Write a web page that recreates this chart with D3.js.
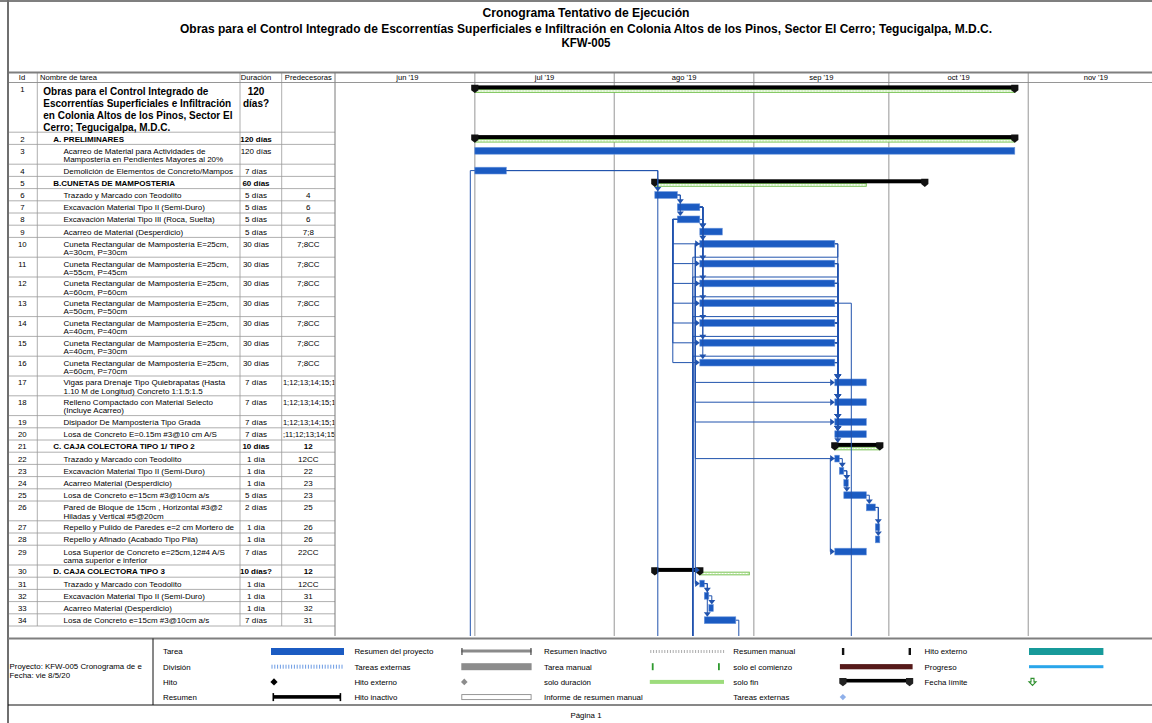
<!DOCTYPE html>
<html><head><meta charset="utf-8">
<script src="https://cdn.jsdelivr.net/npm/d3@7/dist/d3.min.js"></script>
<style>
html,body{margin:0;padding:0;background:#fff;}
svg{display:block;}
</style></head><body>
<svg id="chart" width="1152" height="723"></svg>
<script>
// ================= DATA =================
const titleLines = [
  "Cronograma Tentativo de Ejecución",
  "Obras para el Control Integrado de Escorrentías Superficiales e Infiltración en Colonia Altos de los Pinos, Sector El Cerro; Tegucigalpa, M.D.C.",
  "KFW-005"
];
const columnHeaders = ["Id", "Nombre de tarea", "Duración", "Predecesoras"];
const monthLabels = ["jun '19", "jul '19", "ago '19", "sep '19", "oct '19", "nov '19"];
const monthStarts = ["2019-06-01", "2019-07-01", "2019-08-01", "2019-09-01", "2019-10-01", "2019-11-01", "2019-12-01"];
const projectStart = "2019-07-01";

const taskIds = [1,2,3,4,5,6,7,8,9,10,11,12,13,14,15,16,17,18,19,20,21,22,23,24,25,26,27,28,29,30,31,32,33,34];
const taskNames = [
  "Obras para el Control Integrado de\nEscorrentías Superficiales e Infiltración\nen Colonia Altos de los Pinos, Sector El\nCerro; Tegucigalpa, M.D.C.",
  "A. PRELIMINARES",
  "Acarreo de Material para Actividades de\nMampostería en Pendientes Mayores  al 20%",
  "Demolición de Elementos de Concreto/Mampos",
  "B.CUNETAS DE MAMPOSTERIA",
  "Trazado y Marcado con Teodolito",
  "Excavación Material Tipo II (Semi-Duro)",
  "Excavación Material Tipo III (Roca, Suelta)",
  "Acarreo de Material (Desperdicio)",
  "Cuneta Rectangular de Mampostería E=25cm,\nA=30cm, P=30cm",
  "Cuneta Rectangular de Mampostería E=25cm,\nA=55cm, P=45cm",
  "Cuneta Rectangular de Mampostería E=25cm,\nA=60cm, P=60cm",
  "Cuneta Rectangular de Mampostería E=25cm,\nA=50cm, P=50cm",
  "Cuneta Rectangular de Mampostería E=25cm,\nA=40cm, P=40cm",
  "Cuneta Rectangular de Mampostería E=25cm,\nA=40cm, P=30cm",
  "Cuneta Rectangular de Mampostería E=25cm,\nA=60cm, P=70cm",
  "Vigas para Drenaje Tipo Quiebrapatas (Hasta\n1.10 M de Longitud) Concreto 1:1.5:1.5",
  "Relleno Compactado con Material Selecto\n(Incluye Acarreo)",
  "Disipador De Mampostería Tipo Grada",
  "Losa de Concreto E=0.15m #3@10 cm A/S",
  "C. CAJA COLECTORA TIPO 1/ TIPO 2",
  "Trazado y Marcado con Teodolito",
  "Excavación Material Tipo II (Semi-Duro)",
  "Acarreo Material (Desperdicio)",
  "Losa de Concreto e=15cm #3@10cm a/s",
  "Pared de Bloque de 15cm , Horizontal #3@2\nHiladas y Vertical #5@20cm",
  "Repello y Pulido de Paredes e=2 cm Mortero de",
  "Repello y Afinado (Acabado Tipo Pila)",
  "Losa Superior de Concreto e=25cm,12#4 A/S\ncama superior e inferior",
  "D. CAJA COLECTORA TIPO 3",
  "Trazado y Marcado con Teodolito",
  "Excavación Material Tipo II (Semi-Duro)",
  "Acarreo Material (Desperdicio)",
  "Losa de Concreto e=15cm #3@10cm a/s"
];
const outlineLevels = [0,1,2,2,1,2,2,2,2,2,2,2,2,2,2,2,2,2,2,2,1,2,2,2,2,2,2,2,2,1,2,2,2,2];
const durations = [
  "120\ndías?","120 días","120 días","7 días","60 días","5 días","5 días","5 días","5 días",
  "30 días","30 días","30 días","30 días","30 días","30 días","30 días",
  "7 días","7 días","7 días","7 días","10 días","1 día","1 día","1 día","5 días","2 días",
  "1 día","1 día","7 días","10 días?","1 día","1 día","1 día","7 días"
];
// full predecessor lists (used for the links)
const predecessors = [
  "","","","","","4","6","6","7;8",
  "7;8CC","7;8CC","7;8CC","7;8CC","7;8CC","7;8CC","7;8CC",
  "11;12;13;14;15;16","11;12;13;14;15;16","11;12;13;14;15;16","10;11;12;13;14;15;16",
  "12","12CC","22","23","23","25","26","26","22CC","12","12CC","31","32","31"
];
// the part of each predecessor cell that is visible in the printed column
const predecessorShown = [
  "","","","","","4","6","6","7;8",
  "7;8CC","7;8CC","7;8CC","7;8CC","7;8CC","7;8CC","7;8CC",
  "1;12;13;14;15;1","1;12;13;14;15;1","1;12;13;14;15;1",";11;12;13;14;15;",
  "12","12CC","22","23","23","25","26","26","22CC","12","12CC","31","32","31"
];
const summaryIds = [1, 2, 5, 21, 30];
// days counted from projectStart (1 jul 2019)
const startDays = [0,0,0,0,40,40,45,45,50,50,50,50,50,50,50,50,80,80,80,80,80,80,81,82,82,87,89,89,80,40,50,51,52,51];
const endDays   = [120,120,120,7,100,45,50,50,55,80,80,80,80,80,80,80,87,87,87,87,90,81,82,83,87,89,90,90,87,50,51,52,53,58];
const rollupStartDays = [0, 0, 40, 80, 50];
const rollupEndDays   = [120, 120, 87, 90, 61];
// links not written in the predecessor column (start-to-start and links to tasks on later pages)
const extraSSLinks = [[10,17],[10,18],[10,19]];
const offPageLinks = [[4,"CC",0],[4,"FC",40],[10,"FC",50],[11,"FC",50],[13,"FC",50],[14,"FC",50],[15,"FC",50],[13,"FC",83],[34,"FC",58]];

const projectInfo = ["Proyecto: KFW-005 Cronograma de e", "Fecha: vie 8/5/20"];
const legendLabels = [
  ["Tarea","División","Hito","Resumen"],
  ["Resumen del proyecto","Tareas externas","Hito externo","Hito inactivo"],
  ["Resumen inactivo","Tarea manual","solo duración","Informe de resumen manual"],
  ["Resumen manual","solo el comienzo","solo fin","Tareas externas"],
  ["Hito externo","Progreso","Fecha límite"]
];
const legendSymbols = [
  ["task","split","milestone","summary"],
  ["projsummary","exttask","extmilestone","inactivemilestone"],
  ["inactivesummary","manualtask","durationonly","none"],
  ["manualsummary","startonly","finishonly","extdiamond"],
  ["teal","progress","deadline"]
];
const footerText = "Página 1";

// ================= LAYOUT =================
const W = 1152, H = 723;
const FONT = '"Liberation Sans", Arial, Helvetica, sans-serif';
const BLUE = "#1b5bc2", LINK = "#2153ad";
const svg = d3.select("#chart");
const parseDate = d3.utcParse("%Y-%m-%d");
const day0 = parseDate(projectStart);
const x = d3.scaleUtc()
  .domain([parseDate("2019-07-01"), parseDate("2019-11-01")])
  .range([474.8, 1028.3]);
const X = d => x(d3.utcDay.offset(day0, d));

const col = {left: 8, id: 37.3, name: 240, dur: 281.7, pred: 335, right: W};
const headTop = 72.5, headBot = 82.5, chartBottom = 636;

const tasks = taskIds.map((id, i) => {
  const lines = taskNames[i].split("\n");
  return {
    id, i, lines, level: outlineLevels[i], dur: durations[i], pred: predecessors[i], predLabel: predecessorShown[i],
    summary: summaryIds.includes(id), start: startDays[i], end: endDays[i]
  };
});
summaryIds.forEach((id, k) => {
  const t = tasks[id - 1];
  t.rStart = rollupStartDays[k]; t.rEnd = rollupEndDays[k];
});
let acc = headBot;
tasks.forEach(t => {
  t.h = t.level === 0 ? 49.7 : (t.lines.length === 1 ? 12.2 : 19.8);
  t.top = acc; acc += t.h;
  t.mid = t.top + 6.4;
});
const tableBottom = acc;
const byId = id => tasks[id - 1];

// defs / clips
const defs = svg.append("defs");
defs.append("clipPath").attr("id", "clipGantt").append("rect")
  .attr("x", col.pred).attr("y", headBot).attr("width", W - col.pred).attr("height", chartBottom - headBot);
defs.append("clipPath").attr("id", "clipName").append("rect")
  .attr("x", col.id).attr("y", headBot).attr("width", col.name - col.id - 0.5).attr("height", tableBottom - headBot);
defs.append("clipPath").attr("id", "clipPred").append("rect")
  .attr("x", col.dur + 0.6).attr("y", headBot).attr("width", col.pred - col.dur - 1.2).attr("height", tableBottom - headBot);

function text(parent, x, y, s, o = {}) {
  return parent.append("text").attr("x", x).attr("y", y).text(s)
    .attr("font-family", o.family || FONT)
    .attr("font-size", o.size || 8)
    .attr("font-weight", o.bold ? "bold" : "normal")
    .attr("text-anchor", o.anchor || "start")
    .attr("fill", o.fill || "#000");
}

// ---------- Title block ----------
const titleY = [17, 32.5, 46.5];
const titleLen = [207, 812, 49];
titleLines.forEach((s, k) => {
  text(svg, 586, titleY[k], s, {size: 12.5, bold: true, anchor: "middle",
    family: '"Liberation Sans Narrow", "Arial Narrow", "Liberation Sans", Arial, sans-serif'})
    .attr("textLength", titleLen[k]).attr("lengthAdjust", "spacingAndGlyphs");
});

// ---------- Gantt grid ----------
const grid = svg.append("g");
const monthDates = monthStarts.map(parseDate);
monthDates.slice(1, -1).forEach(d => {
  grid.append("line").attr("x1", x(d)).attr("x2", x(d)).attr("y1", headTop).attr("y2", chartBottom)
    .attr("stroke", "#b4b4b4").attr("stroke-width", 1.4);
});
monthLabels.forEach((m, k) => {
  const cx = (x(monthDates[k]) + x(monthDates[k + 1])) / 2;
  text(svg, cx, headBot - 2.3, m, {anchor: "middle", size: 7.6});
});

// ---------- Table ----------
const table = svg.append("g");
tasks.forEach(t => {
  table.append("line").attr("x1", col.left).attr("x2", col.pred).attr("y1", t.top + t.h).attr("y2", t.top + t.h)
    .attr("stroke", "#9a9a9a").attr("stroke-width", 0.8);
});
[col.id, col.name, col.dur].forEach(cx => {
  table.append("line").attr("x1", cx).attr("x2", cx).attr("y1", headTop).attr("y2", tableBottom)
    .attr("stroke", "#9a9a9a").attr("stroke-width", 0.8);
});
table.append("line").attr("x1", col.pred).attr("x2", col.pred).attr("y1", headTop).attr("y2", chartBottom)
  .attr("stroke", "#7a7a7a").attr("stroke-width", 1);
// header
text(svg, 22, headBot - 2.3, columnHeaders[0], {anchor: "middle", size: 7.6});
text(svg, 40, headBot - 2.3, columnHeaders[1], {size: 7.6});
text(svg, 256, headBot - 2.3, columnHeaders[2], {anchor: "middle", size: 7.6});
text(svg, 308.3, headBot - 2.3, columnHeaders[3], {anchor: "middle", size: 7.6});
svg.append("line").attr("x1", col.left).attr("x2", W).attr("y1", headBot).attr("y2", headBot)
  .attr("stroke", "#8a8a8a").attr("stroke-width", 0.9);
svg.append("line").attr("x1", col.left).attr("x2", W).attr("y1", headTop).attr("y2", headTop)
  .attr("stroke", "#7f7f7f").attr("stroke-width", 2);

const nameG = table.append("g").attr("clip-path", "url(#clipName)");
const predG = table.append("g").attr("clip-path", "url(#clipPred)");
const indent = [43.3, 53.3, 63.5];
tasks.forEach(t => {
  const big = t.level === 0;
  const bold = t.summary;
  const lh = big ? 12 : 8.3;
  const base = big ? t.top + 12 : t.top + 9.3;
  text(table, 22.3, t.top + 9.3, t.id, {anchor: "middle", size: 7.8});
  t.lines.forEach((ln, k) => text(nameG, indent[t.level], base + k * lh, ln, {size: big ? 10 : 8, bold}));
  t.dur.split("\n").forEach((ln, k) => text(table, 256, base + k * lh, ln, {anchor: "middle", size: big ? 10 : 8, bold}));
  if (t.predLabel) {
    const long = t.predLabel.length > 10;
    text(predG, long ? col.dur + 1.2 : 308.3, t.top + 9.3, t.predLabel,
      {anchor: long ? "start" : "middle", size: long ? 7.6 : 8, bold});
  }
});

// ---------- Bars ----------
const gantt = svg.append("g").attr("clip-path", "url(#clipGantt)");
const barsG = gantt.append("g");
const linksG = gantt.append("g");
const arrowsG = gantt.append("g");

function capPath(cx, top) {
  return `M${cx - 3.6},${top - 0.6}H${cx + 3.6}V${top + 4.8}L${cx},${top + 7.6}L${cx - 3.6},${top + 4.8}Z`;
}
tasks.forEach(t => {
  if (t.summary) {
    const y0 = t.top + 2.9;
    // rolled-up duration (green dashed)
    const gx0 = X(t.rStart), gx1 = X(t.rEnd);
    barsG.append("rect").attr("x", gx0).attr("y", y0 + 4.2).attr("width", gx1 - gx0).attr("height", 2.8)
      .attr("fill", "#d3efc2").attr("stroke", "#6cbd45").attr("stroke-width", 0.8);
    barsG.append("line").attr("x1", gx0 + 1).attr("x2", gx1 - 1).attr("y1", y0 + 5.6).attr("y2", y0 + 5.6)
      .attr("stroke", "#fff").attr("stroke-width", 1.1).attr("stroke-dasharray", "1.6,1.4");
    const bx0 = X(t.start), bx1 = X(t.end);
    barsG.append("rect").attr("x", bx0).attr("y", y0).attr("width", bx1 - bx0).attr("height", 4).attr("fill", "#000");
    barsG.append("path").attr("d", capPath(bx0, y0)).attr("fill", "#111");
    barsG.append("path").attr("d", capPath(bx1, y0)).attr("fill", "#111");
  } else {
    barsG.append("rect").attr("x", X(t.start)).attr("y", t.mid - 3.4)
      .attr("width", X(t.end) - X(t.start)).attr("height", 6.8)
      .attr("fill", BLUE).attr("stroke", "#6b95dc").attr("stroke-width", 0.6);
  }
});

// ---------- Links ----------
const fsLinks = [], ssLinks = [];
tasks.forEach(t => {
  if (!t.pred) return;
  t.pred.split(";").forEach(p => {
    const ss = /CC$/.test(p);
    const pid = parseInt(p, 10);
    (ss ? ssLinks : fsLinks).push([pid, t.id]);
  });
});
extraSSLinks.forEach(l => ssLinks.push(l));

function succStart(s) { return s.summary ? X(s.rStart) : X(s.start); }
function succTop(s) { return s.summary ? s.top + 2.9 : s.mid - 3.4; }
function downArrow(cx, ty) {
  arrowsG.append("path").attr("d", `M${cx - 3.5},${ty - 4.6}H${cx + 3.5}L${cx},${ty}Z`).attr("fill", LINK);
}
function rightArrow(tx, cy) {
  arrowsG.append("path").attr("d", `M${tx - 4.6},${cy - 3.5}V${cy + 3.5}L${tx},${cy}Z`).attr("fill", LINK);
}
function line(d) {
  linksG.append("path").attr("d", d).attr("fill", "none").attr("stroke", LINK).attr("stroke-width", 1);
}
fsLinks.forEach(([pid, sid]) => {
  const p = byId(pid), s = byId(sid);
  const pe = X(p.end), ps = succStart(s);
  const py = p.summary ? p.top + 5 : p.mid;
  if (ps >= pe - 0.5) {
    const vx = ps + 3, ty = succTop(s);
    line(`M${pe},${py}H${vx}V${ty - 3}`);
    downArrow(vx, ty);
  } else {
    const sy = s.summary ? s.top + 4.9 : s.mid;
    line(`M${pe},${py}H${pe + 3}V${p.top + p.h}H${ps - 7}V${sy}H${ps - 3}`);
    rightArrow(ps, sy);
  }
});
ssLinks.forEach(([pid, sid]) => {
  const p = byId(pid), s = byId(sid);
  const px = X(p.start), ps = succStart(s);
  line(`M${px},${p.mid}H${px - 4.5}V${s.mid}H${ps - 3}`);
  rightArrow(ps, s.mid);
});
offPageLinks.forEach(([pid, type, sd]) => {
  const p = byId(pid), ps = X(sd);
  if (type === "CC") {
    const px = X(p.start);
    line(`M${px},${p.mid}H${px - 4.5}V${chartBottom + 5}`);
  } else {
    const pe = X(p.end);
    if (ps >= pe - 0.5) line(`M${pe},${p.mid}H${ps + 3}V${chartBottom + 5}`);
    else line(`M${pe},${p.mid}H${pe + 3}V${p.top + p.h}H${ps - 7}V${chartBottom + 5}`);
  }
});

// ---------- Frame ----------
svg.append("line").attr("x1", 0).attr("x2", W).attr("y1", 1).attr("y2", 1).attr("stroke", "#7f7f7f").attr("stroke-width", 2);
svg.append("line").attr("x1", col.left).attr("x2", col.left).attr("y1", 0).attr("y2", H).attr("stroke", "#6f6f6f").attr("stroke-width", 2);

// ---------- Legend ----------
const legTop = 638.5, legBot = 705, legSep = 153;
svg.append("line").attr("x1", col.left).attr("x2", W).attr("y1", legTop).attr("y2", legTop).attr("stroke", "#7f7f7f").attr("stroke-width", 2);
svg.append("line").attr("x1", col.left).attr("x2", W).attr("y1", legBot).attr("y2", legBot).attr("stroke", "#111").attr("stroke-width", 1);
svg.append("line").attr("x1", legSep).attr("x2", legSep).attr("y1", legTop).attr("y2", legBot).attr("stroke", "#111").attr("stroke-width", 1);
projectInfo.forEach((s, k) => text(svg, 9.5, 669 + k * 8.8, s, {size: 7.9}));

const legLabelX = [163, 354.4, 544, 733.3, 924.5];
const legSymX = [[271, 344], [461.3, 531.6], [649.8, 724], [839.9, 912.6], [1029, 1103.4]];
const legRowY = [651.5, 666.7, 681.9, 697.1];
const lg = svg.append("g");
function sym(kind, x0, x1, c) {
  const w = x1 - x0;
  switch (kind) {
    case "task": lg.append("rect").attr("x", x0).attr("y", c - 3.5).attr("width", w).attr("height", 7).attr("fill", BLUE); break;
    case "split": for (let xx = x0 + 1; xx < x1; xx += 2.8) lg.append("line").attr("x1", xx).attr("x2", xx).attr("y1", c - 2).attr("y2", c + 2).attr("stroke", "#5a8fe0").attr("stroke-width", 0.9); break;
    case "milestone": lg.append("path").attr("d", `M${x0 + 3},${c - 3.6}L${x0 + 6.6},${c}L${x0 + 3},${c + 3.6}L${x0 - 0.6},${c}Z`).attr("fill", "#000"); break;
    case "summary":
      lg.append("rect").attr("x", x0 + 2).attr("y", c - 2).attr("width", w - 5).attr("height", 3.6).attr("fill", "#000");
      lg.append("rect").attr("x", x0 + 1.5).attr("y", c - 4).attr("width", 1.6).attr("height", 8).attr("fill", "#000");
      lg.append("rect").attr("x", x1 - 4.4).attr("y", c - 4).attr("width", 1.6).attr("height", 8).attr("fill", "#000");
      break;
    case "projsummary":
      lg.append("rect").attr("x", x0).attr("y", c - 2).attr("width", w).attr("height", 3).attr("fill", "#8a8a8a");
      lg.append("rect").attr("x", x0).attr("y", c - 3.5).attr("width", 1.3).attr("height", 7).attr("fill", "#555");
      lg.append("rect").attr("x", x1 - 1.3).attr("y", c - 3.5).attr("width", 1.3).attr("height", 7).attr("fill", "#555");
      break;
    case "exttask": lg.append("rect").attr("x", x0).attr("y", c - 3.5).attr("width", w).attr("height", 7).attr("fill", "#8c8c8c"); break;
    case "extmilestone": lg.append("path").attr("d", `M${x0 + 3},${c - 3.3}L${x0 + 6.3},${c}L${x0 + 3},${c + 3.3}L${x0 - 0.3},${c}Z`).attr("fill", "#8c8c8c"); break;
    case "inactivemilestone": lg.append("rect").attr("x", x0 + 0.5).attr("y", c - 2.5).attr("width", w - 1).attr("height", 5).attr("fill", "#fff").attr("stroke", "#8c8c8c").attr("stroke-width", 0.9); break;
    case "inactivesummary": for (let xx = x0 + 1; xx < x1; xx += 2.8) lg.append("line").attr("x1", xx).attr("x2", xx).attr("y1", c - 1.5).attr("y2", c + 1.5).attr("stroke", "#a0a0a0").attr("stroke-width", 0.9); break;
    case "manualtask":
      lg.append("rect").attr("x", x0 + 2).attr("y", c - 3.5).attr("width", 1.8).attr("height", 7).attr("fill", "#2f9a2f");
      lg.append("rect").attr("x", x1 - 6).attr("y", c - 3.5).attr("width", 1.8).attr("height", 7).attr("fill", "#2f9a2f");
      break;
    case "durationonly": lg.append("rect").attr("x", x0).attr("y", c - 2).attr("width", w).attr("height", 4).attr("fill", "#9ddc7c"); break;
    case "manualsummary":
      lg.append("rect").attr("x", x0 + 2).attr("y", c - 3.5).attr("width", 2.4).attr("height", 7).attr("fill", "#111");
      lg.append("rect").attr("x", x1 - 4).attr("y", c - 3.5).attr("width", 2.4).attr("height", 7).attr("fill", "#111");
      break;
    case "startonly": lg.append("rect").attr("x", x0).attr("y", c - 2.6).attr("width", w).attr("height", 5.2).attr("fill", "#561a1a"); break;
    case "finishonly":
      lg.append("rect").attr("x", x0 + 2).attr("y", c - 3).attr("width", w - 4).attr("height", 3.6).attr("fill", "#000");
      lg.append("path").attr("d", capPath(x0 + 3, c - 3.2)).attr("fill", "#222");
      lg.append("path").attr("d", capPath(x1 - 3, c - 3.2)).attr("fill", "#222");
      break;
    case "extdiamond": lg.append("path").attr("d", `M${x0 + 3},${c - 3.2}L${x0 + 6.2},${c}L${x0 + 3},${c + 3.2}L${x0 - 0.2},${c}Z`).attr("fill", "#8fb0ea"); break;
    case "teal": lg.append("rect").attr("x", x0).attr("y", c - 3.5).attr("width", w).attr("height", 7).attr("fill", "#179a9a"); break;
    case "progress": lg.append("rect").attr("x", x0).attr("y", c - 1.5).attr("width", w).attr("height", 3).attr("fill", "#2aa6ea"); break;
    case "deadline":
      lg.append("path").attr("d", `M${x0 + 2},${c - 3.5}H${x0 + 5}V${c}H${x0 + 7}L${x0 + 3.5},${c + 3.5}L${x0},${c}H${x0 + 2}Z`)
        .attr("fill", "#fff").attr("stroke", "#2e8f2e").attr("stroke-width", 1.1);
      break;
  }
}
legendLabels.forEach((labels, ci) => {
  labels.forEach((lab, ri) => {
    text(lg, legLabelX[ci], legRowY[ri] + 2.9, lab, {size: 7.9});
    sym(legendSymbols[ci][ri], legSymX[ci][0], legSymX[ci][1], legRowY[ri]);
  });
});
text(svg, 586, 717.5, footerText, {anchor: "middle", size: 7.9});
</script>
</body></html>
